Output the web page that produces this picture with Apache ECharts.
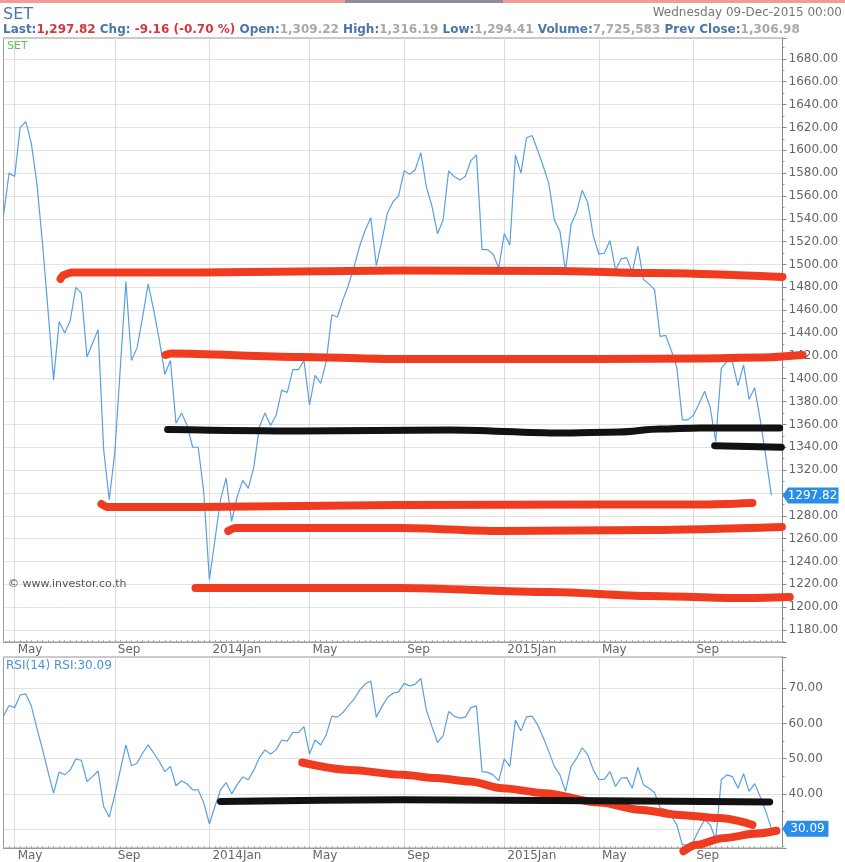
<!DOCTYPE html>
<html><head><meta charset="utf-8">
<script src="https://cdn.jsdelivr.net/npm/echarts@6/dist/echarts.min.js"></script>
<style>html,body{margin:0;padding:0;background:#fff}#c{width:845px;height:862px}</style>
</head><body><div id="c"></div>
<script>
// ---------- data ----------
const firstWeekUTC = [2013, 3, 17];   // first weekly bar: 17 Apr 2013
const weekCount = 141;                 // 139 bars + 2 empty trailing weeks
const price = [1543,1580,1577,1620,1625,1606,1571,1519,1460,1399,
1450,1440,1451,1480,1475,1419,1431,1443,1338,1294,
1335,1410,1485,1416,1427,1454,1483,1460,1434,1404,
1416,1361,1370,1359,1340,1340,1300,1224,1259,1294,
1313,1275,1297,1311,1304,1323,1358,1370,1359,1368,
1390,1388,1408,1408,1416,1377,1403,1396,1415,1456,
1454,1469,1482,1498,1516,1530,1541,1499,1521,1545,
1555,1560,1582,1579,1583,1598,1568,1551,1527,1539,
1582,1577,1574,1577,1591,1596,1513,1513,1509,1497,
1527,1517,1596,1580,1611,1613,1600,1586,1571,1539,
1529,1494,1535,1546,1565,1554,1525,1509,1510,1521,
1495,1505,1506,1493,1516,1487,1483,1478,1437,1438,
1425,1410,1364,1364,1368,1378,1389,1375,1345,1409,
1415,1415,1394,1412,1382,1392,1364,1332,1297.82];
const rsi = [62.1,65.1,64.5,68.1,68.4,65,58.6,52.7,46.3,40.2,
46.2,45.4,46.8,49.9,49.5,43.5,44.9,46.5,36.4,33.4,
39.7,46.8,53.9,48,48.7,51.6,53.9,51.6,49.2,46.3,
47.8,42.3,43.7,42.8,41.1,41.1,37.4,31.5,36.4,41.1,
43.2,40,42.6,44.8,44,46.8,50.3,52.5,51.3,52.5,
55.3,55,57.5,57.4,59.1,51.3,55.3,53.9,56.8,62.1,
61.8,63.1,65.1,66.9,69.5,71.2,72.1,61.8,64.8,67.4,
68.6,69,71.4,70.7,71.2,72.8,63.8,59.1,54.6,56.5,
63.4,62.1,61.5,61.8,64.5,65,46.3,46.1,45.4,43.7,
49.9,47.8,61,57.9,61.9,62.1,59.6,56,52,47.8,
45.4,40.7,47.8,50.1,53.1,51.1,46.8,44,44.2,46.3,
42.1,44.5,44.6,41.6,47.5,42.6,41.6,40.4,36,35.5,
33.8,31.2,25.5,25.5,26.5,29.8,32.6,31.2,27,44,
45.4,44.9,41.6,45.7,40.7,42.9,39.2,35,30.09];
const labelMonths = [1, 5, 9];
const monthNames = {1:'Jan', 5:'May', 9:'Sep'};
const priceRange = [1169.5, 1698.3];
const rsiRange = [24.6, 78.9];
const headerStats = [
  ['Last:', '1,297.82', 'r'], [' Chg: ', '-9.16 (-0.70 %)', 'r'], [' Open:', '1,309.22', 'g'],
  [' High:', '1,316.19', 'g'], [' Low:', '1,294.41', 'g'], [' Volume:', '7,725,583', 'g'],
  [' Prev Close:', '1,306.98', 'g']
];
const headerDate = 'Wednesday 09-Dec-2015 00:00';
// hand-drawn annotation strokes: [week index, value]
const redA = [[10.25,1487.4],[10.8,1490.9],[12.2,1493],[35.2,1493],[71.2,1494.8],[99.9,1494.4],[116.1,1492.6],[140,1489.1]];
const redB = [[29.1,1420.8],[30.2,1422.1],[53.2,1419.1],[71.2,1417.3],[107.1,1417.3],[125.1,1417.8],[135.9,1418.6],[143.6,1420.8]];
const blackC = [[29.5,1355.6],[53.2,1354.3],[80.2,1355.1],[100,1352.5],[110.7,1353.4],[117.9,1356],[125.1,1356.9],[139.5,1356.9]];
const blackD = [[127.8,1341.4],[139.8,1340]];
const redE = [[17.6,1290.3],[18.7,1287.7],[35.2,1287.7],[71.2,1289.5],[107.1,1289.9],[125.1,1289.9],[134.6,1291.2]];
const redF = [[40.4,1266.7],[41.7,1269.3],[71.2,1269.3],[89.2,1266.7],[116.1,1267.6],[139.9,1270.2]];
const redG = [[34.5,1216.8],[71.2,1216.8],[98.1,1213.3],[116.1,1209.8],[132.3,1208],[141.3,1208.9]];
const rsiRedH = [[53.7,48.9],[62.2,46.8],[71.7,45.4],[77.8,44.5],[83.8,43.5],[89.7,41.6],[97.2,40.2],[107.1,37.5],[114.3,35.5],[121.5,34],[128.7,33.1],[134.6,31.2]];
const rsiBlackI = [[39,37.8],[71.2,38.3],[107.1,38],[137.7,37.7]];
const rsiRedJ = [[122.2,23.7],[124.6,25.5],[129.2,27.4],[135.4,28.7],[138.9,29.5]];
const strokeAxisMax = 150;             // annotation axis reaches past the price scale

// ---------- build ----------
const cats = [];
for (let i = 0; i < weekCount; i++) {
  const d = new Date(Date.UTC(firstWeekUTC[0], firstWeekUTC[1], firstWeekUTC[2] + 7 * i));
  cats.push(d.toISOString().slice(0, 10));
}
function isMark(s) { const m = +s.slice(5, 7), d = +s.slice(8, 10); return d <= 7 && labelMonths.indexOf(m) >= 0; }
function markText(s) { const m = +s.slice(5, 7); return m === 1 ? s.slice(0, 4) + 'Jan' : monthNames[m]; }

const FONT = '"DejaVu Sans", sans-serif';
const RED = '#ef3b1f', BLACK = '#121212', BLUE = '#5a9fe2', TAG = '#2a8ee8';
const W = 845, LEFT = 3.5, RIGHT = 62.5;
const step = (W - LEFT - RIGHT) / (weekCount - 1);
const strokeRight = W - LEFT - step * strokeAxisMax;
const P = { top: 38, height: 604 }, R = { top: 657, height: 191 };

function catAxis(gi) {
  return {
    type: 'category', gridIndex: gi, data: cats, boundaryGap: false,
    axisLine: { show: true, lineStyle: { color: '#999' } },
    axisTick: { show: true, interval: 0, inside: true, length: 2, lineStyle: { color: '#aaa' } },
    axisLabel: { interval: (i, v) => isMark(v), formatter: v => markText(v), align: 'left', padding: [0,0,0,3],
      margin: 2, color: '#666', fontSize: 12, fontFamily: FONT },
    splitLine: { show: true, interval: (i, v) => isMark(v), lineStyle: { color: '#dcdcdc', width: 1 } }
  };
}
function valAxis(gi, range, split, hide) {
  return {
    type: 'value', gridIndex: gi, position: 'right', min: range[0], max: range[1], splitNumber: split, scale: true,
    axisLine: { show: true, lineStyle: { color: '#888' } },
    axisTick: { show: true, length: 4, lineStyle: { color: '#888' } },
    minorTick: { show: true, splitNumber: 2, length: 2, lineStyle: { color: '#999' } },
    axisLabel: { margin: 6, color: '#666', fontSize: 12, fontFamily: FONT,
      formatter: v => (Math.abs(v - Math.round(v / 10) * 10) > 1e-6 || hide.indexOf(Math.round(v)) >= 0) ? '' : v.toFixed(2) },
    splitLine: { show: true, lineStyle: { color: '#c4c4c4', type: 'dotted' } }
  };
}
function stroke(data, color, width, ai) {
  return { type: 'line', xAxisIndex: ai, yAxisIndex: ai, data, smooth: 0.3, smoothMonotone: 'x', symbol: 'none',
    clip: false, silent: true, z: 6, lineStyle: { color, width, cap: 'round', join: 'round' } };
}
function tag(val, w) {
  return { symbol: 'path://M0,8L6,0H60V16H6Z', symbolSize: [w, 16], symbolOffset: [w / 2, 0], silent: true,
    itemStyle: { color: TAG },
    label: { show: true, position: 'inside', offset: [2, 0], color: '#fff', fontSize: 12, fontFamily: FONT, formatter: () => val.toFixed(2) },
    data: [{ coord: [cats[weekCount - 1], val], value: val }] };
}

const rich = { b: { color: '#4a76a8', fontWeight: 'bold', fontSize: 12, fontFamily: FONT },
  r: { color: '#d8363b', fontSize: 12, fontFamily: FONT }, g: { color: '#a8a8a8', fontSize: 12, fontFamily: FONT } };
const infoText = headerStats.map(s => '{b|' + s[0] + '}{' + s[2] + '|' + s[1] + '}').join('');

const lastP = price[price.length - 1], lastR = rsi[rsi.length - 1];
const option = {
  animation: false,
  backgroundColor: '#fff',
  title: [
    { text: 'SET', left: 3, top: 7, padding: 0, textStyle: { color: '#4a76a8', fontSize: 16, fontWeight: 'normal', fontFamily: FONT } },
    { text: headerDate, right: 3, top: 7, padding: 0, textStyle: { color: '#777', fontSize: 12, fontWeight: 'normal', fontFamily: FONT } },
    { text: infoText, left: 3, top: 24, padding: 0, textStyle: { rich } },
    { text: 'SET', left: 7, top: 41, padding: 0, textStyle: { color: '#5cc45c', fontSize: 11, fontWeight: 'normal', fontFamily: FONT } },
    { text: 'RSI(14) RSI:' + lastR.toFixed(2), left: 6, top: 660, padding: 0, textStyle: { color: '#4a90d9', fontSize: 12, fontWeight: 'normal', fontFamily: FONT } },
    { text: '© www.investor.co.th', left: 8, top: 579, padding: 0, textStyle: { color: '#555', fontSize: 11, fontWeight: 'normal', fontFamily: FONT } }
  ],
  graphic: [
    { type: 'rect', shape: { x: 0, y: 0, width: 845, height: 3 }, style: { fill: '#f39b9b' } },
    { type: 'rect', shape: { x: 345, y: 0, width: 158, height: 3 }, style: { fill: '#948a9c' } }
  ],
  grid: [
    { left: LEFT, right: RIGHT, top: P.top, height: P.height, show: true, borderColor: '#999', borderWidth: 1 },
    { left: LEFT, right: RIGHT, top: R.top, height: R.height, show: true, borderColor: '#999', borderWidth: 1 },
    { left: LEFT, right: strokeRight, top: P.top, height: P.height, show: false },
    { left: LEFT, right: strokeRight, top: R.top, height: R.height, show: false }
  ],
  xAxis: [catAxis(0), catAxis(1),
    { type: 'value', gridIndex: 2, min: 0, max: strokeAxisMax, show: false },
    { type: 'value', gridIndex: 3, min: 0, max: strokeAxisMax, show: false }],
  yAxis: [valAxis(0, priceRange, 26, [1300]), valAxis(1, rsiRange, 5, [30]),
    { type: 'value', gridIndex: 2, min: priceRange[0], max: priceRange[1], show: false },
    { type: 'value', gridIndex: 3, min: rsiRange[0], max: rsiRange[1], show: false }],
  series: [
    { name: 'SET', type: 'line', xAxisIndex: 0, yAxisIndex: 0, data: price, symbol: 'none', z: 3,
      lineStyle: { color: BLUE, width: 1.2 }, markPoint: tag(lastP, 56) },
    { name: 'RSI', type: 'line', xAxisIndex: 1, yAxisIndex: 1, data: rsi, symbol: 'none', z: 3,
      lineStyle: { color: BLUE, width: 1.2 }, markPoint: tag(lastR, 46) },
    stroke(redA, RED, 8, 2), stroke(redB, RED, 8, 2), stroke(blackC, BLACK, 7, 2),
    stroke(blackD, BLACK, 7, 2), stroke(redE, RED, 8, 2), stroke(redF, RED, 8, 2), stroke(redG, RED, 8, 2),
    stroke(rsiRedH, RED, 8, 3), stroke(rsiBlackI, BLACK, 7, 3), stroke(rsiRedJ, RED, 8, 3)
  ]
};
echarts.init(document.getElementById('c'), null, { renderer: 'canvas' }).setOption(option);
</script></body></html>
